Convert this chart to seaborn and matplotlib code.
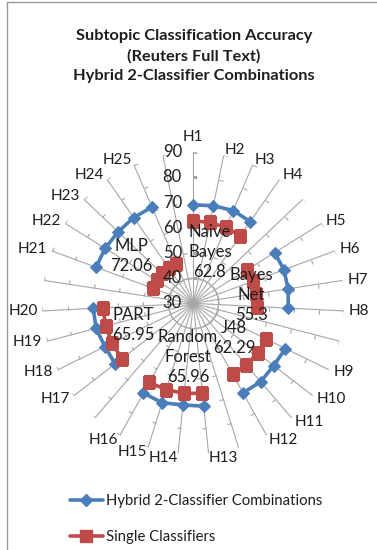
import numpy as np
import pandas as pd
import seaborn as sns
import matplotlib
matplotlib.use("Agg")
import matplotlib.pyplot as plt
from matplotlib.lines import Line2D
from matplotlib.markers import MarkerStyle
from matplotlib.path import Path
from matplotlib.transforms import Affine2D

# ---- data -------------------------------------------------------------
# 31 spokes: six classifier groups, each followed by an empty spoke
categories = ["H1", "H2", "H3", "H4", "",
              "H5", "H6", "H7", "H8", "",
              "H9", "H10", "H11", "H12", "",
              "H13", "H14", "H15", "H16", "",
              "H17", "H18", "H19", "H20", "",
              "H21", "H22", "H23", "H24", "H25", ""]

nan = np.nan
hybrid = [69.1, 69.6, 70.1, 69.6, nan,
          68.1, 68.4, 68.1, 67.8, nan,
          70.8, 70.4, 71.1, 70.7, nan,
          71.1, 70.6, 71.4, 70.8, nan,
          69.3, 69.1, 69.9, 69.8, nan,
          71.2, 71.3, 71.2, 71.5, 71.6, nan]

single = [62.8, 62.8, 62.8, 62.8, nan,
          55.3, 55.3, 55.3, 55.3, nan,
          62.29, 62.29, 62.29, 62.29, nan,
          65.96, 65.96, 65.96, 65.96, nan,
          65.95, 65.95, 65.95, 65.95, nan,
          47.2, 47.2, 47.2, 47.2, 47.2, nan]

classifier_names = ["Naive\nBayes", "Bayes\nNet", "J48", "Random\nForest", "PART", "MLP"]
classifier_acc = ["62.8", "55.3", "62.29", "65.96", "65.95", "72.06"]

value_ticks = [30, 40, 50, 60, 70, 80, 90]
series_names = ["Hybrid 2-Classifier Combinations", "Single Classifiers"]

# ---- styling ----------------------------------------------------------
sns.set_style("white")
plt.rcParams["font.family"] = ["Lato", "DejaVu Sans"]
TEXT = "#1e1e1e"
GRID = "#a6a6a6"
BLUE = "#4A7EBB"
RED = "#BE4B48"
W, H = 377, 550

n = len(categories)
theta = 2 * np.pi * np.arange(n) / n

# long-form table; a new segment starts after every empty spoke
rows = []
for name, vals in zip(series_names, [hybrid, single]):
    seg = 0
    for t, v in zip(theta, vals):
        if np.isnan(v):
            seg += 1
            continue
        rows.append({"series": name, "theta": t, "value": v, "segment": seg})
df = pd.DataFrame(rows)

fig = plt.figure(figsize=(W / 100, H / 100), dpi=100)
cx, cy, R = 193.3, 303.3, 151.0
ax = fig.add_axes([(cx - R) / W, (H - cy - R) / H, 2 * R / W, 2 * R / H],
                  projection="polar")
ax.set_theta_zero_location("N")
ax.set_theta_direction(-1)
ax.set_facecolor("none")

# chart border (left and top edges)
fig.add_artist(Line2D([7 / W, 7 / W], [0, 1 - 2 / H], color="#9a9a9a", lw=1.0))
fig.add_artist(Line2D([7 / W, 1], [1 - 2 / H, 1 - 2 / H], color="#9a9a9a", lw=1.0))

# spokes with small tick marks on each one
tick_path = Path([(0, 0), (1, 0)])
for t in theta:
    ax.plot([t, t], [30, 90], color=GRID, lw=0.8, zorder=1)
    mk = MarkerStyle(tick_path, transform=Affine2D().rotate_deg(-np.degrees(t)))
    ax.plot([t] * 6, value_ticks[1:], ls="none", marker=mk, ms=6,
            mec=GRID, mew=0.8, zorder=1)
circ = np.linspace(0, 2 * np.pi, 300)
ax.plot(circ, np.full_like(circ, 40.0), color=GRID, lw=0.8, zorder=1)

# the two series
styles = {
    series_names[0]: dict(color=BLUE, marker="D", markersize=6.5, lw=2.6,
                          markeredgecolor=BLUE, markerfacecolor=BLUE),
    series_names[1]: dict(color=RED, marker="s", markersize=9, lw=2.6,
                          markeredgecolor=RED, markerfacecolor=RED),
}
for z, name in enumerate(series_names):
    sns.lineplot(data=df[df.series == name], x="theta", y="value",
                 units="segment", estimator=None, sort=False, ax=ax,
                 legend=False, zorder=3 + z, **styles[name])

ax.set_ylim(30, 90)
ax.set_yticks([])
ax.set_xticks([])
ax.grid(False)
ax.spines["polar"].set_visible(False)
ax.set_xlabel("")
ax.set_ylabel("")

# category labels just beyond each spoke end, aligned away from the centre
gap = 5
for t, lab in zip(theta, categories):
    if not lab:
        continue
    s, c = np.sin(t), np.cos(t)
    ha = "left" if s > 0.05 else ("right" if s < -0.05 else "center")
    va = "bottom" if ha == "center" and c > 0 else "center"
    ax.annotate(lab, xy=(t, 90), xytext=(gap * s, gap * c + (3 if va == "bottom" else 0)),
                textcoords="offset pixels", ha=ha, va=va, fontsize=11,
                color=TEXT, annotation_clip=False)

# value scale along the top spoke
for v in value_ticks:
    ax.annotate(str(v), xy=(0, v), xytext=(-21, 0), textcoords="offset pixels",
                ha="center", va="center", fontsize=12, color=TEXT,
                annotation_clip=False, zorder=6)

# classifier name / accuracy labels
label_xy = [(210, 231.7), (251, 275), (234, 328.3), (188, 337.3), (133.3, 315), (131, 245.7)]
for (x, y), nm, acc in zip(label_xy, classifier_names, classifier_acc):
    for i, line in enumerate(nm.split("\n") + [acc]):
        fig.text(x / W, 1 - (y + 20 * i) / H, line, ha="center", va="center",
                 fontsize=12, color=TEXT, zorder=7)

# title
for i, line in enumerate(["Subtopic Classification Accuracy", "(Reuters Full Text)",
                          "Hybrid 2-Classifier Combinations"]):
    fig.text(194 / W, 1 - (36 + 20 * i) / H, line, ha="center", va="center",
             fontsize=11.8, fontweight="bold", color=TEXT)

# legend
handles = [Line2D([], [], **styles[s]) for s in series_names]
fig.legend(handles, series_names, loc="upper left",
           bbox_to_anchor=(70 / W, 1 - 494 / H), frameon=False, fontsize=10.7,
           handlelength=2.2, handletextpad=0.25, labelspacing=1.5,
           borderpad=0, borderaxespad=0, labelcolor=TEXT)

fig.savefig("out.png", dpi=100, facecolor="white")
